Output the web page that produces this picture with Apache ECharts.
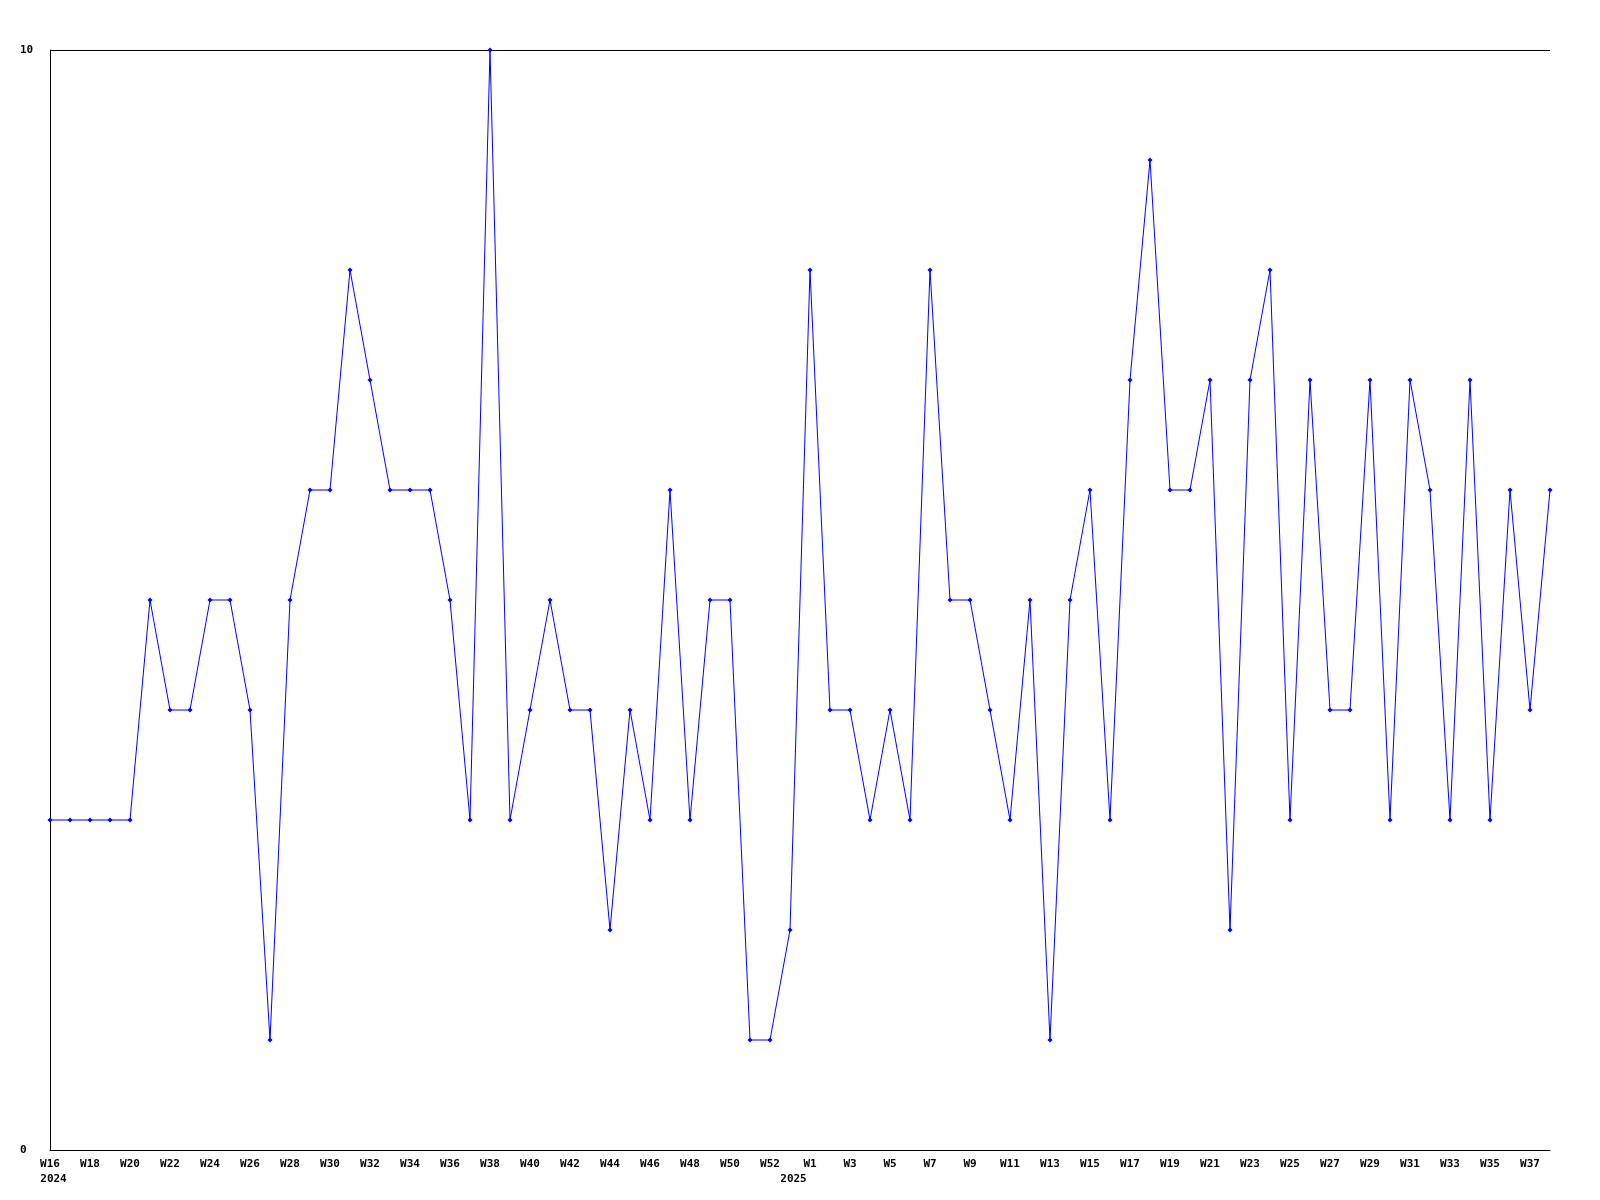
<!DOCTYPE html>
<html>
<head>
<meta charset="utf-8">
<script src="https://cdn.jsdelivr.net/npm/echarts@6/dist/echarts.min.js"></script>
<style>
  html, body { margin: 0; padding: 0; background: #fff; }
  #chart { width: 1600px; height: 1200px; }
</style>
</head>
<body>
<div id="chart"></div>
<script>
  // weeks shown on the x axis
  const weeks2024 = ['W16', 'W17', 'W18', 'W19', 'W20', 'W21', 'W22', 'W23', 'W24', 'W25',
    'W26', 'W27', 'W28', 'W29', 'W30', 'W31', 'W32', 'W33', 'W34', 'W35', 'W36', 'W37',
    'W38', 'W39', 'W40', 'W41', 'W42', 'W43', 'W44', 'W45', 'W46', 'W47', 'W48', 'W49',
    'W50', 'W51', 'W52', 'W53']
  const weeks2025 = ['W1', 'W2', 'W3', 'W4', 'W5', 'W6', 'W7', 'W8', 'W9', 'W10', 'W11',
    'W12', 'W13', 'W14', 'W15', 'W16', 'W17', 'W18', 'W19', 'W20', 'W21', 'W22', 'W23',
    'W24', 'W25', 'W26', 'W27', 'W28', 'W29', 'W30', 'W31', 'W32', 'W33', 'W34', 'W35',
    'W36', 'W37', 'W38']
  const values2024 = [3, 3, 3, 3, 3, 5, 4, 4, 5, 5, 4, 1, 5, 6, 6, 8, 7, 6, 6, 6, 5, 3,
    10, 3, 4, 5, 4, 4, 2, 4, 3, 6, 3, 5, 5, 1, 1, 2]
  const values2025 = [8, 4, 4, 3, 4, 3, 8, 5, 5, 4, 3, 5, 1, 5, 6, 3, 7, 9, 6, 6, 7, 2,
    7, 8, 3, 7, 4, 4, 7, 3, 7, 6, 3, 7, 3, 6, 4, 6]
  const yearLabels = ['2024', '2025']
  const yTicks = [0, 10]

  const categories = weeks2024.concat(weeks2025)
  const values = values2024.concat(values2025)
  const firstIdx2025 = weeks2024.length

  const font = '"DejaVu Sans Mono", "Liberation Mono", monospace'
  const labelFont = { color: '#000', fontFamily: font, fontWeight: 'bold', fontSize: 11 }

  const chart = echarts.init(document.getElementById('chart'))
  chart.setOption({
    backgroundColor: '#ffffff',
    animation: false,
    grid: { left: 50, right: 50, top: 50, bottom: 50, containLabel: false },
    xAxis: {
      type: 'category',
      boundaryGap: false,
      data: categories,
      axisLine: { show: true, lineStyle: { color: '#000', width: 1 } },
      axisTick: { show: false },
      splitLine: { show: false },
      axisLabel: {
        ...labelFont,
        lineHeight: 15,
        margin: 7,
        rich: {
          y: { ...labelFont, lineHeight: 15, padding: [0, 0, 0, 7] }
        },
        interval: function (index) {
          return index % 2 === 0 || index === firstIdx2025 - 1
        },
        formatter: function (value, index) {
          if (index === 0) return value + '\n{y|' + yearLabels[0] + '}'
          if (index === firstIdx2025 - 1) return ' \n{y|' + yearLabels[1] + '}'
          return value
        }
      }
    },
    yAxis: {
      type: 'value',
      min: yTicks[0],
      max: yTicks[1],
      interval: yTicks[1] - yTicks[0],
      axisLine: { show: true, lineStyle: { color: '#000', width: 1 } },
      axisTick: { show: false },
      splitLine: { show: true, lineStyle: { color: '#000', width: 1 } },
      axisLabel: {
        ...labelFont,
        align: 'left',
        margin: 30
      }
    },
    series: [
      {
        type: 'line',
        data: values,
        symbol: 'diamond',
        symbolSize: 5,
        showAllSymbol: true,
        lineStyle: { color: '#0000ff', width: 1 },
        itemStyle: { color: '#0000ff' }
      }
    ]
  })
</script>
</body>
</html>
